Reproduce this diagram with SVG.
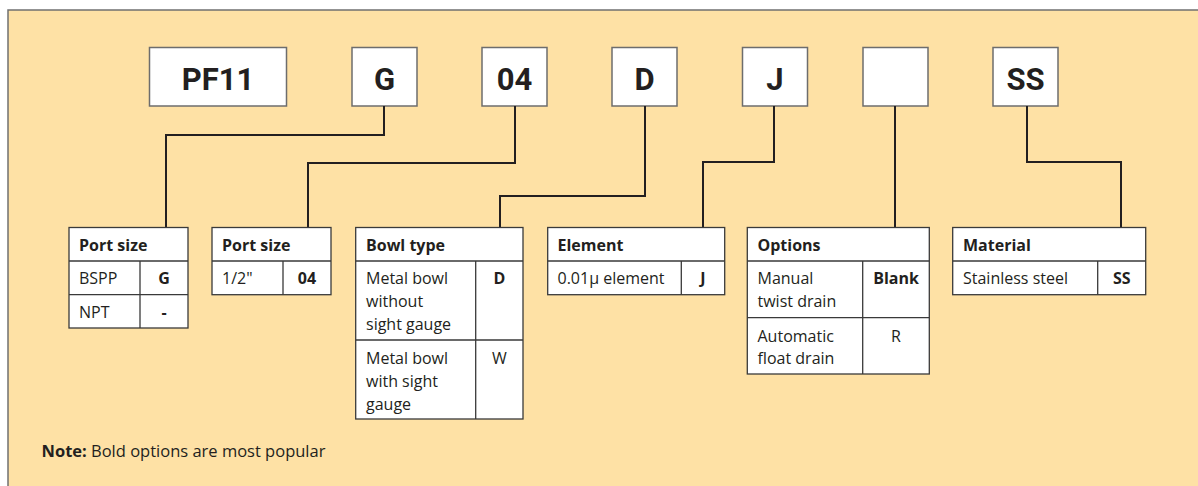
<svg xmlns="http://www.w3.org/2000/svg" width="1198" height="486" viewBox="0 0 1198 486">
<style>
.bg{fill:#FEE1A5;stroke:#707070;stroke-width:1.5}
.box{fill:#fff;stroke:#6d6d6d;stroke-width:1.5}
.code{font-family:Roboto,"Liberation Sans",sans-serif;font-weight:bold;font-size:31px;fill:#231F20;text-anchor:middle}
.tb{fill:#fff;stroke:#3a3a3a;stroke-width:1.3}
.ln{fill:none;stroke:#3a3a3a;stroke-width:1.3}
.t{font-family:"Open Sans","Liberation Sans",sans-serif;font-size:16px;fill:#231F20}
.h{font-weight:bold}
.c{text-anchor:middle}
.n{font-size:16.5px}
.con{fill:none;stroke:#231F20;stroke-width:2}
</style>
<rect class="bg" x="8" y="10" width="1200" height="490"/>

<g id="code-pf11"><rect class="box" x="149.5" y="47.5" width="137" height="58.5"/><text class="code" x="218" y="90">PF11</text></g>
<g id="code-g"><rect class="box" x="352" y="47.5" width="65" height="58.5"/><text class="code" x="384.5" y="90">G</text></g>
<g id="code-04"><rect class="box" x="482" y="47.5" width="65" height="58.5"/><text class="code" x="514.5" y="90">04</text></g>
<g id="code-d"><rect class="box" x="612" y="47.5" width="65" height="58.5"/><text class="code" x="644.5" y="90">D</text></g>
<g id="code-j"><rect class="box" x="742.5" y="47.5" width="65" height="58.5"/><text class="code" x="775" y="90">J</text></g>
<g id="code-blank"><rect class="box" x="863" y="47.5" width="65" height="58.5"/></g>
<g id="code-ss"><rect class="box" x="993" y="47.5" width="65" height="58.5"/><text class="code" x="1025.5" y="90">SS</text></g>

<g id="connectors">
<polyline class="con" points="384,106 384,135 166,135 166,227"/>
<polyline class="con" points="515,106 515,163 308,163 308,227"/>
<polyline class="con" points="645,106 645,196 500,196 500,227"/>
<polyline class="con" points="774,106 774,162 703,162 703,227"/>
<polyline class="con" points="895,106 895,227"/>
<polyline class="con" points="1027,106 1027,162 1121,162 1121,227"/>
</g>

<g id="table-port-size-1">
<rect class="tb" x="69" y="227.5" width="119" height="100.5"/>
<path class="ln" d="M69 261H188M69 294.7H188M140 261V328"/>
<text class="t h" x="79" y="251">Port size</text>
<text class="t" x="79" y="284">BSPP</text><text class="t h c" x="164" y="284">G</text>
<text class="t" x="79" y="318">NPT</text><text class="t h c" x="164" y="318">-</text>
</g>

<g id="table-port-size-2">
<rect class="tb" x="212" y="227.5" width="119" height="67.2"/>
<path class="ln" d="M212 261H331M283 261V294.7"/>
<text class="t h" x="222" y="251">Port size</text>
<text class="t" x="222" y="284">1/2"</text><text class="t h c" x="307" y="284">04</text>
</g>

<g id="table-bowl-type">
<rect class="tb" x="355.7" y="227.5" width="167.3" height="191.5"/>
<path class="ln" d="M355.7 261H523M355.7 340H523M475.7 261V419"/>
<text class="t h" x="366" y="251">Bowl type</text>
<text class="t" x="366" y="284">Metal bowl</text>
<text class="t" x="366" y="307">without</text>
<text class="t" x="366" y="330">sight gauge</text>
<text class="t h c" x="499.5" y="284">D</text>
<text class="t" x="366" y="364">Metal bowl</text>
<text class="t" x="366" y="387">with sight</text>
<text class="t" x="366" y="410">gauge</text>
<text class="t c" x="499.5" y="364">W</text>
</g>

<g id="table-element">
<rect class="tb" x="547.7" y="227.5" width="177" height="67.2"/>
<path class="ln" d="M547.7 261H724.7M681.3 261V294.7"/>
<text class="t h" x="557.5" y="251">Element</text>
<text class="t" x="557.5" y="284">0.01μ element</text><text class="t h c" x="703" y="284">J</text>
</g>

<g id="table-options">
<rect class="tb" x="747.3" y="227.5" width="182" height="146.5"/>
<path class="ln" d="M747.3 261H929.3M747.3 317.7H929.3M862.7 261V374"/>
<text class="t h" x="757.5" y="251">Options</text>
<text class="t" x="757.5" y="284">Manual</text>
<text class="t" x="757.5" y="307">twist drain</text>
<text class="t h c" x="896" y="284">Blank</text>
<text class="t" x="757.5" y="341.5">Automatic</text>
<text class="t" x="757.5" y="364">float drain</text>
<text class="t c" x="896" y="341.5">R</text>
</g>

<g id="table-material">
<rect class="tb" x="952.7" y="227.5" width="193" height="67.2"/>
<path class="ln" d="M952.7 261H1145.7M1097.7 261V294.7"/>
<text class="t h" x="963" y="251">Material</text>
<text class="t" x="963" y="284">Stainless steel</text><text class="t h c" x="1121.7" y="284">SS</text>
</g>

<g id="note">
<text class="t n" x="41.5" y="456.5"><tspan class="h">Note:</tspan> Bold options are most popular</text>
</g>
</svg>
